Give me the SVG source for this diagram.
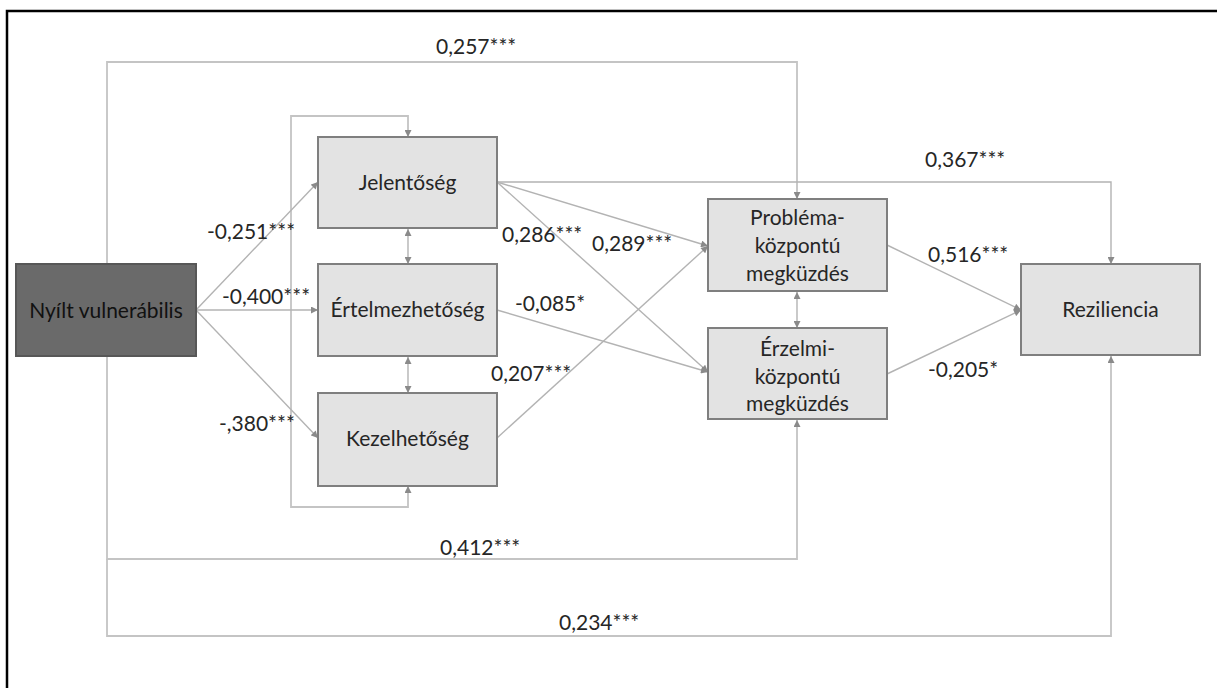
<svg xmlns="http://www.w3.org/2000/svg" width="1217" height="688" viewBox="0 0 1217 688">
<defs>
<marker id="ah" viewBox="0 0 10 10" refX="10" refY="5" markerWidth="8" markerHeight="7" markerUnits="userSpaceOnUse" orient="auto-start-reverse"><path d="M0,0 L10,5 L0,10 z" fill="#8a8a8a"/></marker>
</defs>
<style>
.node rect {fill:#e3e3e3; stroke:#7f7f7f; stroke-width:2}
#n-nyilt rect {fill:#6a6a6a; stroke:#575757}
text {font-family: Lato, "Liberation Sans", sans-serif; font-size:21px; fill:#262626}
.node text {text-anchor:middle}
#n-nyilt text {fill:#111}
.c {fill:none; stroke:#b3b3b3; stroke-width:1.4}
.o {fill:none; stroke:#c4c4c4; stroke-width:1.8}
.ar {marker-end:url(#ah)}
.bi {marker-start:url(#ah); marker-end:url(#ah)}
</style>
<rect x="0" y="0" width="1217" height="688" fill="#fff"/>
<path d="M7,688 V11 H1217" fill="none" stroke="#000" stroke-width="2.5"/>
<g id="connectors">
<path class="o ar" d="M107,264 V62 H797 V199"/>
<path class="o ar" d="M107,357 V559 H797 V420"/>
<path class="o ar" d="M107,559 V636 H1111 V356"/>
<path class="o bi" d="M408,486 V507 H291 V116 H408 V137"/>
<path class="c bi" d="M408,229 V264"/>
<path class="c bi" d="M408,357 V393"/>
<path class="c bi" d="M797,292 V328"/>
<path class="c ar" d="M196,310 L318,182"/>
<path class="c ar" d="M196,310 L318,310"/>
<path class="c ar" d="M196,310 L318,438"/>
<path class="c ar" d="M497,182 H1111 V264"/>
<path class="c ar" d="M497,182 L708,246"/>
<path class="c ar" d="M497,182 L708,372"/>
<path class="c ar" d="M497,310 L708,372"/>
<path class="c ar" d="M497,438 L708,246"/>
<path class="c ar" d="M887,245 L1021,310"/>
<path class="c ar" d="M887,374 L1021,310"/>
</g>
<g id="labels">
<text x="436" y="54">0,257***</text>
<text x="207" y="239">-0,251***</text>
<text x="222" y="304">-0,400***</text>
<text x="219" y="431">-,380***</text>
<text x="502" y="242">0,286***</text>
<text x="592" y="251">0,289***</text>
<text x="515" y="311">-0,085*</text>
<text x="491" y="381">0,207***</text>
<text x="925" y="167">0,367***</text>
<text x="928" y="262">0,516***</text>
<text x="928" y="377">-0,205*</text>
<text x="440" y="555">0,412***</text>
<text x="559" y="630">0,234***</text>
</g>
<g id="n-nyilt" class="node"><rect x="16" y="264" width="180" height="92"/><text x="106" y="318">Nyílt vulnerábilis</text></g>
<g id="n-jelentoseg" class="node"><rect x="318" y="137" width="179" height="91"/><text x="407.5" y="190">Jelentőség</text></g>
<g id="n-ertelmezhetoseg" class="node"><rect x="318" y="264" width="179" height="92"/><text x="407.5" y="317">Értelmezhetőség</text></g>
<g id="n-kezelhetoseg" class="node"><rect x="318" y="393" width="179" height="93"/><text x="407.5" y="446">Kezelhetőség</text></g>
<g id="n-problema" class="node"><rect x="708" y="199" width="179" height="92"/><text x="797.5" y="225">Probléma-</text><text x="797.5" y="253">központú</text><text x="797.5" y="281">megküzdés</text></g>
<g id="n-erzelmi" class="node"><rect x="708" y="328" width="179" height="91"/><text x="797.5" y="356">Érzelmi-</text><text x="797.5" y="384">központú</text><text x="797.5" y="411">megküzdés</text></g>
<g id="n-reziliencia" class="node"><rect x="1021" y="264" width="179" height="91"/><text x="1110.5" y="317">Reziliencia</text></g>
</svg>
